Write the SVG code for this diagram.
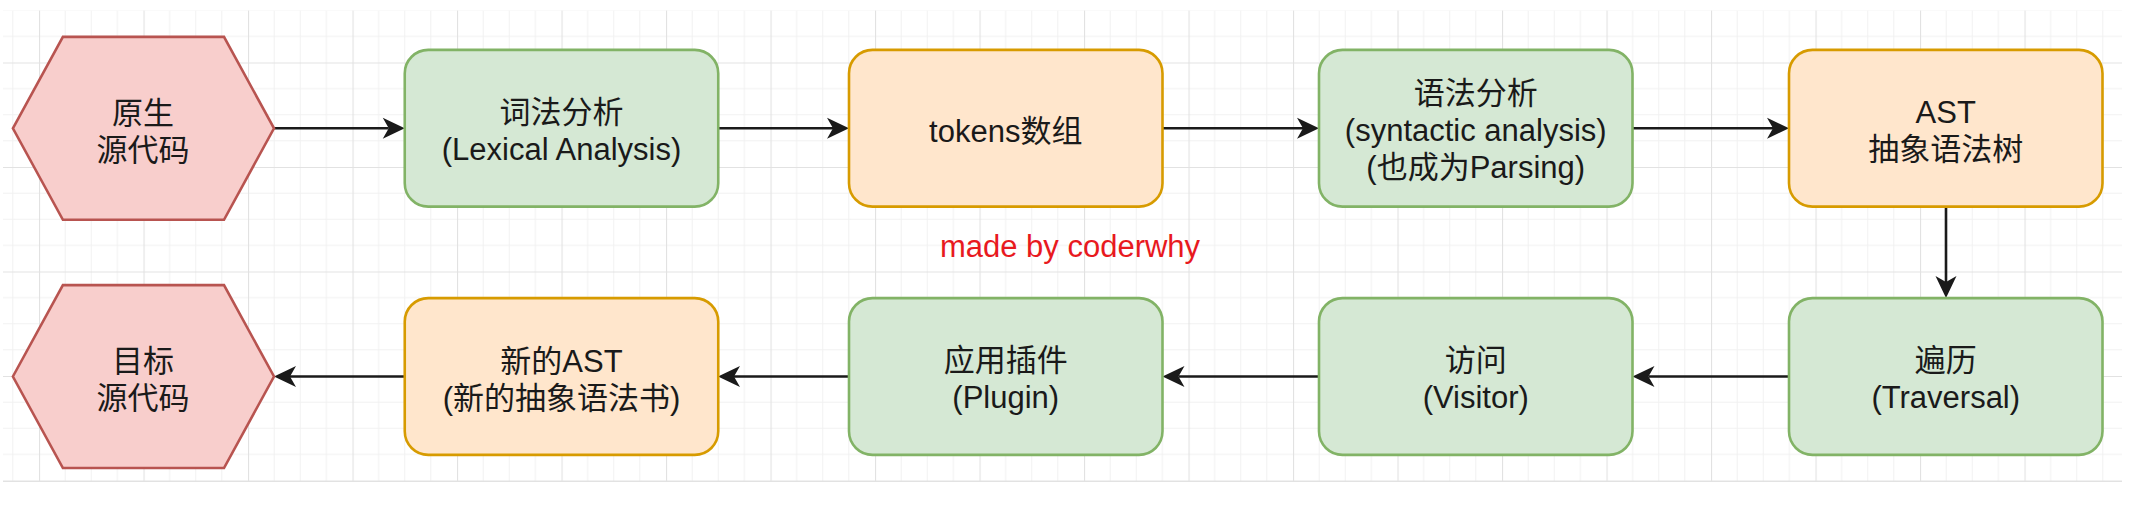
<svg xmlns="http://www.w3.org/2000/svg" width="2131" height="509" viewBox="0 0 2131 509">
<defs>
<style>
.t{font-family:"Liberation Sans","Noto Sans CJK SC",sans-serif;font-size:31px;fill:#1a1a1a;text-anchor:middle}
.red{fill:#e8191e}
.g{fill:#d5e8d4;stroke:#82b366;stroke-width:2.6}
.o{fill:#ffe6cc;stroke:#d79b00;stroke-width:2.6}
.r{fill:#f8cecc;stroke:#b85450;stroke-width:2.6}
.c{fill:none;stroke:#1a1a1a;stroke-width:2.6;marker-end:url(#arr)}
.minor{stroke:#f1f1f1;stroke-width:1}
.major{stroke:#e2e2e2;stroke-width:1.2}
</style>
<marker id="arr" markerUnits="userSpaceOnUse" markerWidth="26" markerHeight="26" viewBox="-24 -13 26 26" refX="-16" refY="0" orient="auto">
<path d="M0,0 L-22,-10.5 L-16,0 L-22,10.5 Z" fill="#1a1a1a"/>
</marker>
<pattern id="grid" patternUnits="userSpaceOnUse" x="39" y="62.5" width="104.5" height="104.5">
<path class="minor" d="M26.125,0 V104.5 M52.25,0 V104.5 M78.375,0 V104.5 M0,26.125 H104.5 M0,52.25 H104.5 M0,78.375 H104.5"/>
<path class="major" d="M0.5,0 V104.5 M0,0.5 H104.5"/>
</pattern>
</defs>
<rect x="0" y="0" width="2131" height="509" fill="#ffffff"/>
<rect x="3" y="10.5" width="2119" height="471" fill="url(#grid)"/>
<line x1="3" y1="481.5" x2="2122" y2="481.5" stroke="#e2e2e2" stroke-width="1.2"/>

<g id="connectors">
<path class="c" d="M274,128.3 H388.75"/>
<path class="c" d="M718,128.3 H833"/>
<path class="c" d="M1162.5,128.3 H1303"/>
<path class="c" d="M1632.5,128.3 H1773"/>
<path class="c" d="M1946,206.7 V282"/>
<path class="c" d="M1789,376.5 H1648.5"/>
<path class="c" d="M1319,376.5 H1178.5"/>
<path class="c" d="M849,376.5 H734"/>
<path class="c" d="M404.75,376.5 H290"/>
</g>

<g id="source">
<polygon class="r" points="12.9,128.3 62.9,36.9 224,36.9 274,128.3 224,219.8 62.9,219.8"/>
<text class="t" x="143" y="124">原生</text>
<text class="t" x="143" y="161">源代码</text>
</g>

<g id="lexical">
<rect class="g" x="404.75" y="49.9" width="313.5" height="156.75" rx="23.5"/>
<text class="t" x="561.5" y="123">词法分析</text>
<text class="t" x="561.5" y="160">(Lexical Analysis)</text>
</g>

<g id="tokens">
<rect class="o" x="849" y="49.9" width="313.5" height="156.75" rx="23.5"/>
<text class="t" x="1005.75" y="142">tokens数组</text>
</g>

<g id="syntactic">
<rect class="g" x="1319" y="49.9" width="313.5" height="156.75" rx="23.5"/>
<text class="t" x="1475.75" y="104">语法分析</text>
<text class="t" x="1475.75" y="141">(syntactic analysis)</text>
<text class="t" x="1475.75" y="178">(也成为Parsing)</text>
</g>

<g id="ast">
<rect class="o" x="1789" y="49.9" width="313.5" height="156.75" rx="23.5"/>
<text class="t" x="1945.75" y="123">AST</text>
<text class="t" x="1945.75" y="160">抽象语法树</text>
</g>

<g id="watermark">
<text class="t red" x="1070" y="257">made by coderwhy</text>
</g>

<g id="traversal">
<rect class="g" x="1789" y="298.1" width="313.5" height="156.75" rx="23.5"/>
<text class="t" x="1945.75" y="371">遍历</text>
<text class="t" x="1945.75" y="408">(Traversal)</text>
</g>

<g id="visitor">
<rect class="g" x="1319" y="298.1" width="313.5" height="156.75" rx="23.5"/>
<text class="t" x="1475.75" y="371">访问</text>
<text class="t" x="1475.75" y="408">(Visitor)</text>
</g>

<g id="plugin">
<rect class="g" x="849" y="298.1" width="313.5" height="156.75" rx="23.5"/>
<text class="t" x="1005.75" y="371">应用插件</text>
<text class="t" x="1005.75" y="408">(Plugin)</text>
</g>

<g id="newast">
<rect class="o" x="404.75" y="298.1" width="313.5" height="156.75" rx="23.5"/>
<text class="t" x="561.5" y="372">新的AST</text>
<text class="t" x="561.5" y="409">(新的抽象语法书)</text>
</g>

<g id="target">
<polygon class="r" points="12.9,376.5 62.9,285.1 224,285.1 274,376.5 224,468 62.9,468"/>
<text class="t" x="143" y="372">目标</text>
<text class="t" x="143" y="409">源代码</text>
</g>
</svg>
